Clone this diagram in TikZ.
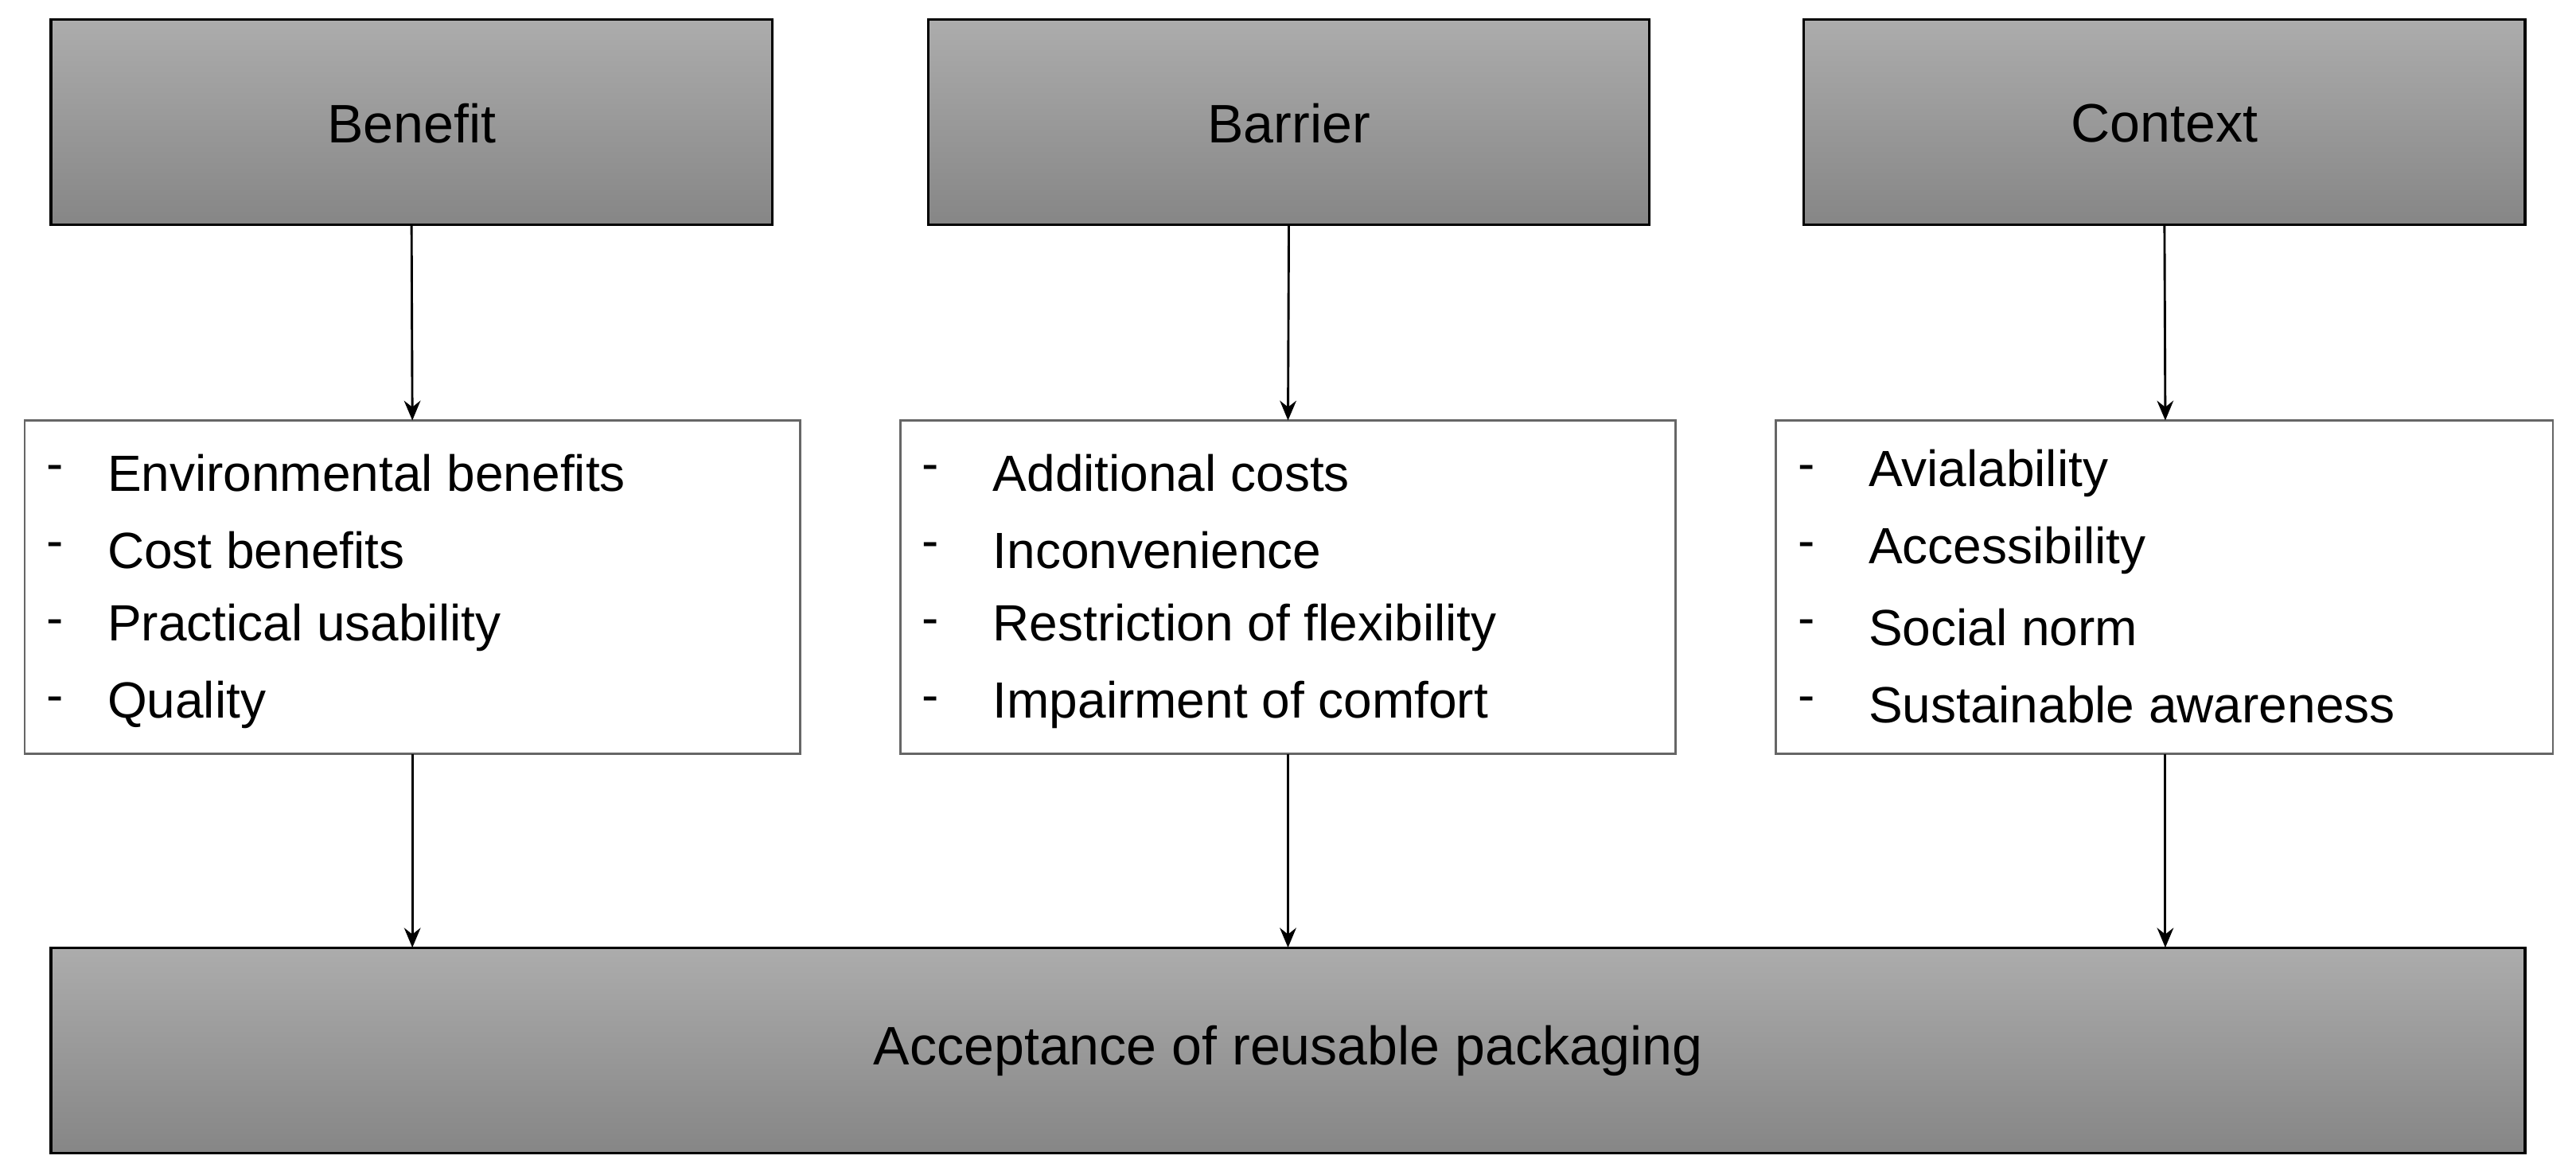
\documentclass[tikz,border=0pt]{standalone}
\usepackage{fontspec}
\usetikzlibrary{arrows.meta}
\setmainfont{Liberation Sans}
\begin{document}
\begin{tikzpicture}[x=0.5pt,y=-0.5pt,
  hd/.style={draw=black,line width=0.8pt,top color=gray!65,bottom color=gray!105!black,inner sep=0},
  lst/.style={draw=black!60,line width=0.6pt,fill=white,inner sep=0},
  arr/.style={-{Stealth[length=6pt,width=5pt]},line width=0.7pt},
  txt/.style={font=\fontsize{15.5}{18}\selectfont,anchor=west,inner sep=0}]
\useasboundingbox (0,0) rectangle (1568,715);
\foreach \n/\a/\t in {b/31/Benefit, r/565/Barrier, c/1098/Context}{
  \path[hd] (\a,12) rectangle (\a+439,137);
  \node[font=\fontsize{16.5}{20}\selectfont] (\n) at (\a+219.5,75) {\t};
  \coordinate (\n top) at (\a+219.5,137);
}
\path[hd] (31,577) rectangle (1537,702);
\node[font=\fontsize{16.5}{20}\selectfont] (acc) at (784,640) {Acceptance of reusable packaging};
\path[lst] (15,256) rectangle (487,459);
\path[lst] (548,256) rectangle (1020,459);
\path[lst] (1081,256) rectangle (1554,459);
\foreach \n/\x in {b/251, r/784, c/1318}{
  \coordinate (\n1) at (\x,256); \coordinate (\n2) at (\x,459); \coordinate (\n3) at (\x,577);
  \draw[arr] (\n top) -- (\n1);
  \draw[arr] (\n2) -- (\n3);
}
\foreach \xd/\xt/\l in {28/65/{Environmental benefits,Cost benefits,Practical usability,Quality},
  561/604/{Additional costs,Inconvenience,Restriction of flexibility,Impairment of comfort},
  1094/1137/{Avialability,Accessibility,Social norm,Sustainable awareness}}{
  \foreach \s [count=\i] in \l {
    \node[txt] at (\xd,241+47*\i) {-};
    \node[txt] at (\xt,241+47*\i) {\s};
  }
}
\end{tikzpicture}
\end{document}
